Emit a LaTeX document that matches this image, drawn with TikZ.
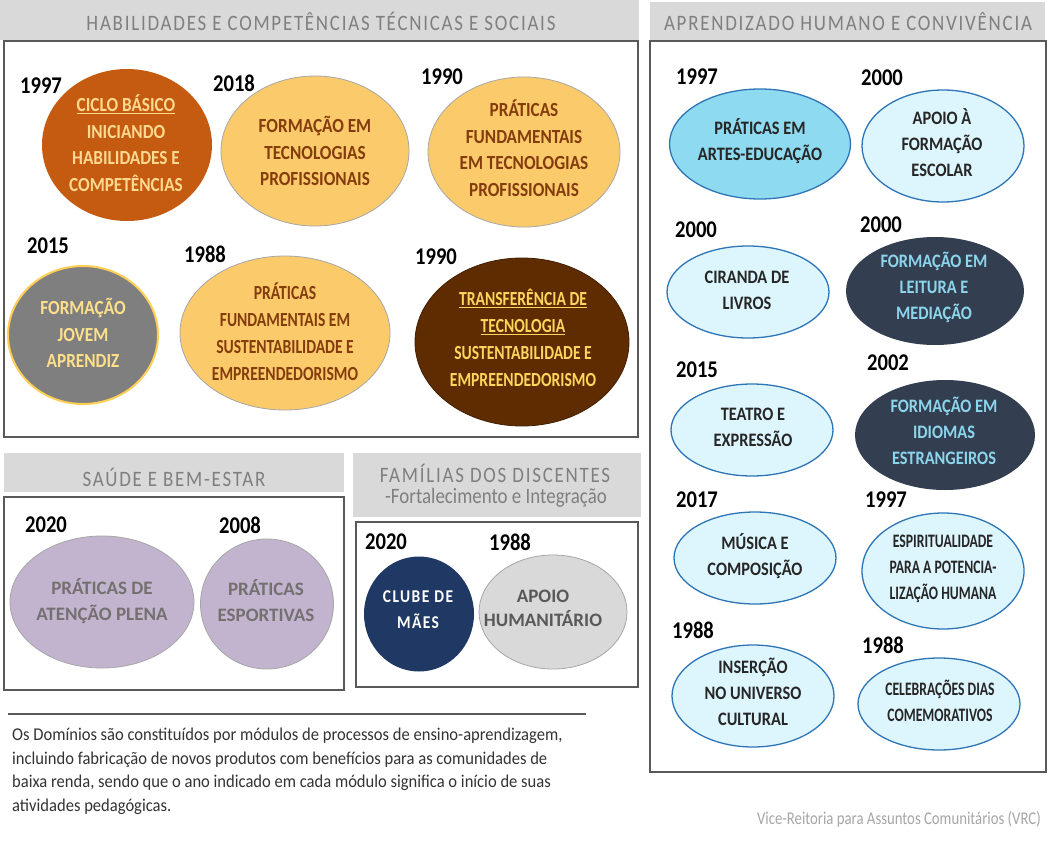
\documentclass[tikz,border=0pt]{standalone}
\usepackage{fontspec}
\setmainfont{Carlito}
\newfontfamily\cn[FakeStretch=0.86]{Carlito}
\newfontfamily\cm[FakeStretch=0.78]{Carlito}
\newfontfamily\cnn[FakeStretch=0.72]{Carlito}
\newfontfamily\hdf[FakeStretch=0.86,LetterSpace=8]{Carlito}
\newfontfamily\pf[FakeStretch=0.92]{Carlito}
\newfontfamily\vf[FakeStretch=0.82]{Carlito}
\usetikzlibrary{shapes.geometric}
\definecolor{bandc}{HTML}{D9D9D9}
\definecolor{panelc}{HTML}{595959}
\definecolor{hdrc}{HTML}{7F7F7F}
\definecolor{orng}{HTML}{C55A11}
\definecolor{orngtxt}{HTML}{FFD98F}
\definecolor{lorng}{HTML}{FBCB6B}
\definecolor{brtxt}{HTML}{843C0C}
\definecolor{gry}{HTML}{7F7F7F}
\definecolor{grytxt}{HTML}{FFE08A}
\definecolor{gold}{HTML}{FFCF55}
\definecolor{brn}{HTML}{5E2C00}
\definecolor{brntxt}{HTML}{FFD55E}
\definecolor{cyan1}{HTML}{8EDAF0}
\definecolor{lcyan}{HTML}{DDF5FD}
\definecolor{blueb}{HTML}{2E75B6}
\definecolor{darkb}{HTML}{333F50}
\definecolor{darktxt}{HTML}{8CD5EC}
\definecolor{lilac}{HTML}{C2B4CF}
\definecolor{lilactxt}{HTML}{757070}
\definecolor{navy}{HTML}{1F3864}
\definecolor{lgray}{HTML}{D9D9D9}
\definecolor{lgraytxt}{HTML}{595959}
\definecolor{paratxt}{HTML}{333333}
\definecolor{vrcc}{HTML}{A6A6A6}
\definecolor{ebord}{HTML}{A6A6A6}
\begin{document}
\begin{tikzpicture}[x=1pt,y=-1pt,
  panel/.style={draw=panelc,line width=1.3pt},
  yr/.style={inner sep=0,font=\cn\bfseries\fontsize{24}{24}\selectfont},
  ell/.style={ellipse,inner sep=0},
  etx/.style={inner sep=0,align=center,font=\cn\bfseries\fontsize{20}{26.5}\selectfont},
  emx/.style={inner sep=0,align=center,font=\cm\bfseries\fontsize{20}{27}\selectfont},
  rtx/.style={inner sep=0,align=center,text=black!85,font=\cn\bfseries\fontsize{19}{26}\selectfont},
  rnx/.style={inner sep=0,align=center,text=black!85,font=\cnn\bfseries\fontsize{19}{26}\selectfont},
  hdr/.style={inner sep=0,text=hdrc,font=\hdf\fontsize{22}{22}\selectfont},
  lblue/.style={ell,fill=lcyan,draw=blueb,line width=1.3pt},
  dark/.style={ell,fill=darkb},
]
\useasboundingbox (0,0) rectangle (1054,851);
\fill[white] (0,0) rectangle (1054,851);

% ---------- Panel 1 ----------
\fill[bandc] (0,0) rectangle (639,40);
\node[hdr] (h1) at (321,21) {HABILIDADES E COMPETÊNCIAS TÉCNICAS E SOCIAIS};
\draw[panel] (4,41) rectangle (638,437);

\node[ell,fill=orng,minimum width=170pt,minimum height=152pt] (e1) at (127,145) {};
\node[etx,text=orngtxt] (e1t) at (126,143) {\underline{CICLO BÁSICO}\\INICIANDO\\HABILIDADES E\\COMPETÊNCIAS};
\node[ell,fill=lorng,draw=ebord,line width=0.8pt,minimum width=188pt,minimum height=150pt] (e2) at (315,151) {};
\node[etx,text=brtxt] (e2t) at (315,151) {FORMAÇÃO EM\\TECNOLOGIAS\\PROFISSIONAIS};
\node[ell,fill=lorng,draw=ebord,line width=0.8pt,minimum width=192pt,minimum height=150pt] (e3) at (524,152) {};
\node[etx,text=brtxt] (e3t) at (524,148) {PRÁTICAS\\FUNDAMENTAIS\\EM TECNOLOGIAS\\PROFISSIONAIS};

\node[ell,fill=gry,draw=gold,line width=2pt,minimum width=150pt,minimum height=138pt] (e4) at (83,335) {};
\node[etx,text=grytxt] (e4t) at (83,333) {FORMAÇÃO\\JOVEM\\APRENDIZ};
\node[ell,fill=lorng,draw=ebord,line width=0.8pt,minimum width=210pt,minimum height=154pt] (e5) at (285,333) {};
\node[emx,text=brtxt] (e5t) at (285,332) {PRÁTICAS\\FUNDAMENTAIS EM\\SUSTENTABILIDADE E\\EMPREENDEDORISMO};
\node[ell,fill=brn,draw=brn!70!black,line width=0.8pt,minimum width=214pt,minimum height=168pt] (e6) at (522,342) {};
\node[emx,text=brntxt] (e6t) at (523,338) {\underline{TRANSFERÊNCIA DE}\\\underline{TECNOLOGIA}\\SUSTENTABILIDADE E\\EMPREENDEDORISMO};

\node[yr] (y1) at (41,86) {1997};
\node[yr] (y2) at (234,83) {2018};
\node[yr] (y3) at (442,77) {1990};
\node[yr] (y4) at (48,246) {2015};
\node[yr] (y5) at (205,254) {1988};
\node[yr] (y6) at (436,257) {1990};

% ---------- Panel 2 (right) ----------
\fill[bandc] (650,2) rectangle (1045,41);
\node[hdr] (h2) at (848,22) {APRENDIZADO HUMANO E CONVIVÊNCIA};
\draw[panel] (650,41) rectangle (1046,772);

\node[ell,fill=cyan1,draw=blueb,line width=1.3pt,minimum width=181pt,minimum height=110pt] (r1) at (760,144) {};
\node[rtx] (r1t) at (760,141) {PRÁTICAS EM\\ARTES-EDUCAÇÃO};
\node[lblue,minimum width=162pt,minimum height=112pt] (r2) at (943,146) {};
\node[rtx] (r2t) at (942,143) {APOIO À\\FORMAÇÃO\\ESCOLAR};
\node[lblue,minimum width=162pt,minimum height=92pt] (r3) at (748,292) {};
\node[rtx] (r3t) at (747,290) {CIRANDA DE\\LIVROS};
\node[dark,minimum width=178pt,minimum height=108pt] (r4) at (935,291) {};
\node[rtx,text=darktxt] (r4t) at (934,287) {FORMAÇÃO EM\\LEITURA E\\MEDIAÇÃO};
\node[lblue,minimum width=162pt,minimum height=92pt] (r5) at (752,430) {};
\node[rtx] (r5t) at (753,427) {TEATRO E\\EXPRESSÃO};
\node[dark,minimum width=180pt,minimum height=110pt] (r6) at (945,435) {};
\node[rtx,text=darktxt] (r6t) at (944,431) {FORMAÇÃO EM\\IDIOMAS\\ESTRANGEIROS};
\node[lblue,minimum width=162pt,minimum height=92pt] (r7) at (755,558) {};
\node[rtx] (r7t) at (755,556) {MÚSICA E\\COMPOSIÇÃO};
\node[lblue,minimum width=162pt,minimum height=116pt] (r8) at (943,571) {};
\node[rnx] (r8t) at (943,569) {ESPIRITUALIDADE\\PARA A POTENCIA-\\LIZAÇÃO HUMANA};
\node[lblue,minimum width=162pt,minimum height=102pt] (r9) at (753,696) {};
\node[rtx] (r9t) at (753,692) {INSERÇÃO\\NO UNIVERSO\\CULTURAL};
\node[lblue,minimum width=162pt,minimum height=92pt] (r10) at (939,704) {};
\node[rnx] (r10t) at (940,701) {CELEBRAÇÕES DIAS\\COMEMORATIVOS};

\node[yr] (ry1) at (697,77) {1997};
\node[yr] (ry2) at (882,78) {2000};
\node[yr] (ry3) at (696,230) {2000};
\node[yr] (ry4) at (881,225) {2000};
\node[yr] (ry5) at (697,370) {2015};
\node[yr] (ry6) at (888,363) {2002};
\node[yr] (ry7) at (697,500) {2017};
\node[yr] (ry8) at (886,500) {1997};
\node[yr] (ry9) at (693,630) {1988};
\node[yr] (ry10) at (883,645) {1988};

% ---------- Panel 3 (Saúde) ----------
\fill[bandc] (4,453) rectangle (344,492);
\node[hdr] (h3) at (174,477) {SAÚDE E BEM-ESTAR};
\draw[panel] (4,497) rectangle (344,690);
\node[ell,fill=lilac,draw=ebord,line width=0.8pt,minimum width=184pt,minimum height=132pt] (s1) at (102,602) {};
\node[inner sep=0,align=center,text=lilactxt,font=\bfseries\fontsize{19}{26}\selectfont] (s1t) at (102,601) {PRÁTICAS DE\\ATENÇÃO PLENA};
\node[ell,fill=lilac,draw=ebord,line width=0.8pt,minimum width=133pt,minimum height=130pt] (s2) at (267,604) {};
\node[inner sep=0,align=center,text=lilactxt,font=\bfseries\fontsize{19}{26}\selectfont] (s2t) at (266,601) {PRÁTICAS\\ESPORTIVAS};
\node[yr] (sy1) at (46,525) {2020};
\node[yr] (sy2) at (240,525) {2008};

% ---------- Panel 4 (Famílias) ----------
\fill[bandc] (353,453) rectangle (641,517);
\node[hdr] (h4) at (495,473) {FAMÍLIAS DOS DISCENTES};
\node[inner sep=0,text=hdrc,font=\cn\fontsize{22}{22}\selectfont] (h4b) at (496,498) {-Fortalecimento e Integração};
\draw[panel] (356,522) rectangle (638,687);
\node[ell,fill=navy,minimum width=110pt,minimum height=115pt] (f1) at (419,614) {};
\node[inner sep=0,align=center,text=white,font=\hdf\bfseries\fontsize{18}{26}\selectfont] (f1t) at (418,610) {CLUBE DE\\MÃES};
\node[ell,fill=lgray,draw=ebord,line width=0.8pt,minimum width=148pt,minimum height=114pt] (f2) at (553,612) {};
\node[inner sep=0,align=center,text=lgraytxt,font=\bfseries\fontsize{19}{24}\selectfont] (f2t) at (543,608) {APOIO\\HUMANITÁRIO};
\node[yr] (fy1) at (386,542) {2020};
\node[yr] (fy2) at (510,542) {1988};

% ---------- Footer ----------
\coordinate (l1) at (8,714);
\coordinate (l2) at (586,714);
\draw[panelc,line width=1.3pt] (l1) -- (l2);
\node[anchor=north west,inner sep=0,align=left,text=paratxt,font=\pf\fontsize{18}{23.5}\selectfont] (par) at (12,728) {Os Domínios são constituídos por módulos de processos de ensino-aprendizagem,\\incluindo fabricação de novos produtos com benefícios para as comunidades de\\baixa renda, sendo que o ano indicado em cada módulo significa o início de suas\\atividades pedagógicas.};
\node[anchor=east,inner sep=0,text=vrcc,font=\vf\fontsize{18}{18}\selectfont] (vrc) at (1041,819) {Vice-Reitoria para Assuntos Comunitários (VRC)};
\end{tikzpicture}
\end{document}
